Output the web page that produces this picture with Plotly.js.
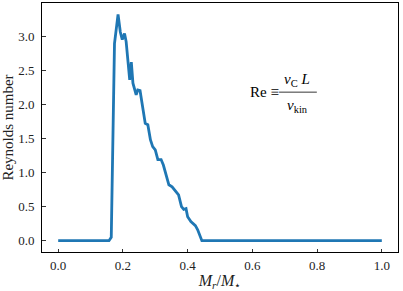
<!DOCTYPE html>
<html>
<head>
<meta charset="utf-8">
<script src="https://cdn.plot.ly/plotly-3.0.1.min.js"></script>
<style>
  html, body { margin: 0; padding: 0; background: #fff; }
  #plot { width: 403px; height: 291px; }
</style>
</head>
<body>
<div id="plot"></div>
<script>
// Mass coordinate M_r/M_star and Reynolds number
var mass = [0.0, 0.157, 0.164, 0.174, 0.185, 0.192, 0.198, 0.205, 0.210, 0.221, 0.226, 0.231,
  0.241, 0.246, 0.253, 0.262, 0.269, 0.277, 0.285, 0.292, 0.300, 0.308, 0.318, 0.325,
  0.334, 0.342, 0.352, 0.362, 0.372, 0.381, 0.388, 0.395, 0.400, 0.410, 0.424, 0.431,
  0.439, 0.444, 1.0];
var reynolds = [0.0, 0.0, 0.05, 2.89, 3.32, 3.06, 2.95, 3.04, 2.92, 2.36, 2.62, 2.31,
  2.14, 2.21, 2.20, 1.96, 1.72, 1.70, 1.48, 1.38, 1.33, 1.19, 1.19, 1.11,
  0.94, 0.82, 0.79, 0.73, 0.67, 0.50, 0.46, 0.47, 0.35, 0.28, 0.22, 0.16,
  0.06, 0.0, 0.0];

var xticks = [0.0, 0.2, 0.4, 0.6, 0.8, 1.0];
var yticks = [0.0, 0.5, 1.0, 1.5, 2.0, 2.5, 3.0];

var serif = "'Liberation Serif', serif";

var trace = {
  x: mass,
  y: reynolds,
  mode: "lines",
  line: {color: "#1f77b4", width: 2.8},
  hoverinfo: "skip"
};

var axisStyle = {
  showgrid: false,
  zeroline: false,
  showline: true,
  mirror: true,
  linecolor: "#000",
  linewidth: 1,
  ticks: "inside",
  ticklen: 3.5,
  tickwidth: 0.8,
  tickcolor: "#000",
  tickfont: {family: serif, size: 13, color: "#222"}
};

var layout = {
  width: 403,
  height: 291,
  margin: {l: 42, r: 5, t: 3, b: 39},
  paper_bgcolor: "#fff",
  plot_bgcolor: "#fff",
  showlegend: false,
  font: {family: serif},
  xaxis: Object.assign({}, axisStyle, {
    range: [-0.05, 1.05],
    tickvals: xticks,
    ticktext: xticks.map(function (v) { return v.toFixed(1); }),
    ticklabelstandoff: 1,
    title: {text: "<i>M</i><sub><i>r</i></sub>/<i>M</i><sub>⋆</sub>",
            font: {family: serif, size: 16, color: "#222"}, standoff: 3}
  }),
  yaxis: Object.assign({}, axisStyle, {
    range: [-0.166, 3.486],
    tickvals: yticks,
    ticktext: yticks.map(function (v) { return v.toFixed(1); }),
    ticklabelstandoff: 4,
    title: {text: "Reynolds number", font: {family: serif, size: 15, color: "#222"}, standoff: 6}
  }),
  annotations: [
    {xref: "paper", yref: "paper", x: 0.624, y: 0.642, xanchor: "center", yanchor: "middle",
     text: "Re ≡", showarrow: false, font: {family: serif, size: 15, color: "#000"}},
    {xref: "paper", yref: "paper", x: 0.717, y: 0.69, xanchor: "center", yanchor: "middle",
     text: "<i>v</i><sub>C</sub> <i>L</i>", showarrow: false, font: {family: serif, size: 15, color: "#000"}},
    {xref: "paper", yref: "paper", x: 0.719, y: 0.585, xanchor: "center", yanchor: "middle",
     text: "<i>ν</i><sub>kin</sub>", showarrow: false, font: {family: serif, size: 15, color: "#000"}}
  ],
  shapes: [
    // fraction bar of the Reynolds number definition
    {type: "line", xref: "paper", yref: "paper", x0: 0.666, x1: 0.772, y0: 0.642, y1: 0.642,
     line: {color: "#000", width: 0.8}}
  ]
};

Plotly.newPlot("plot", [trace], layout, {displayModeBar: false, staticPlot: true});
</script>
</body>
</html>
